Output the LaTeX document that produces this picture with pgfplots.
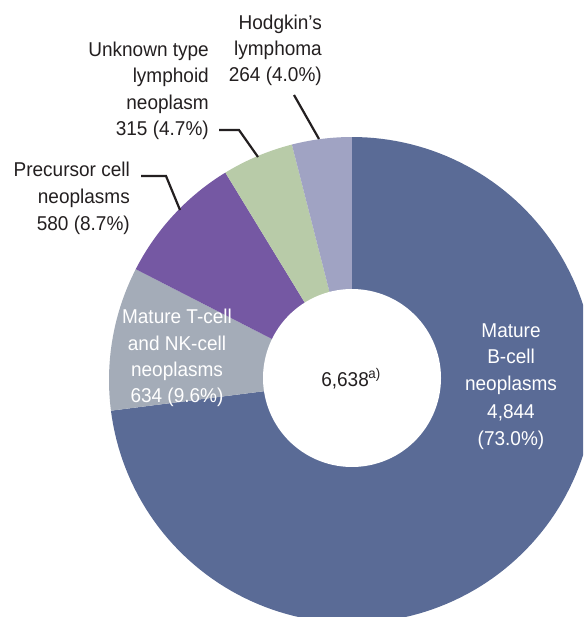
\documentclass[border=0pt]{standalone}
\usepackage{pgfplots}
\pgfplotsset{compat=1.18}
\usepackage{fontspec}
\setmainfont[FakeStretch=0.95]{Liberation Sans}

\definecolor{cB}{HTML}{5A6B96}
\definecolor{cT}{HTML}{A4ACB8}
\definecolor{cP}{HTML}{7558A3}
\definecolor{cU}{HTML}{B8CBA8}
\definecolor{cH}{HTML}{A0A3C3}
\definecolor{txt}{HTML}{231F20}
\newcommand\lf{\fontsize{20}{26}\selectfont}

\begin{document}
\begin{tikzpicture}
% case counts by lymphoma subtype
\def\vB{4844}% mature B-cell
\def\vT{634}%  mature T-cell and NK-cell
\def\vP{580}%  precursor cell
\def\vU{315}%  unknown type
\def\vH{264}%  Hodgkin's lymphoma
\pgfmathsetmacro\tot{\vB+\vT+\vP+\vU+\vH}
% slice boundaries, clockwise from 12 o'clock
\pgfmathsetmacro\aA{90}
\pgfmathsetmacro\aB{\aA-360*(\vB/\tot)}
\pgfmathsetmacro\aC{\aB-360*(\vT/\tot)}
\pgfmathsetmacro\aD{\aC-360*(\vP/\tot)}
\pgfmathsetmacro\aE{\aD-360*(\vU/\tot)}
\pgfmathsetmacro\aF{\aE-360*(\vH/\tot)}
\def\cx{352}\def\cy{380}\def\R{243}\def\r{89}
\begin{axis}[
  scale only axis, width=583pt, height=617pt,
  xmin=0, xmax=583, ymin=0, ymax=617, y dir=reverse,
  axis lines=none, clip=true,
]
\addplot[fill=cB, draw=none, domain=\aB:\aA, samples=150, variable=\t]
  ({\cx+\R*cos(\t)}, {\cy-\R*sin(\t)}) -- (axis cs:\cx,\cy) -- cycle;
\addplot[fill=cT, draw=none, domain=\aC:\aB, samples=40, variable=\t]
  ({\cx+\R*cos(\t)}, {\cy-\R*sin(\t)}) -- (axis cs:\cx,\cy) -- cycle;
\addplot[fill=cP, draw=none, domain=\aD:\aC, samples=40, variable=\t]
  ({\cx+\R*cos(\t)}, {\cy-\R*sin(\t)}) -- (axis cs:\cx,\cy) -- cycle;
\addplot[fill=cU, draw=none, domain=\aE:\aD, samples=30, variable=\t]
  ({\cx+\R*cos(\t)}, {\cy-\R*sin(\t)}) -- (axis cs:\cx,\cy) -- cycle;
\addplot[fill=cH, draw=none, domain=\aF:\aE, samples=30, variable=\t]
  ({\cx+\R*cos(\t)}, {\cy-\R*sin(\t)}) -- (axis cs:\cx,\cy) -- cycle;
% centre hole
\addplot[fill=white, draw=none, domain=0:360, samples=120, variable=\t]
  ({\cx+\r*cos(\t)}, {378-\r*sin(\t)}) -- cycle;

% total
\node[anchor=base, text=txt, inner sep=0pt, font=\lf] at (axis cs:351,386) {6,638\textsuperscript{\kern-0.5pt a)}};

% labels inside the ring
\begin{scope}[every node/.style={anchor=base, text=white, inner sep=0pt, font=\lf}]
\node at (axis cs:511,337) {Mature};
\node at (axis cs:511,363) {B-cell};
\node at (axis cs:511,390) {neoplasms};
\node at (axis cs:511,418) {4,844};
\node at (axis cs:511,445) {(73.0\%)};
\node at (axis cs:177,323) {Mature T-cell};
\node at (axis cs:177,350) {and NK-cell};
\node at (axis cs:177,376) {neoplasms};
\node at (axis cs:177,402) {634 (9.6\%)};
\end{scope}

% labels outside the ring
\begin{scope}[every node/.style={anchor=base east, text=txt, inner sep=0pt, font=\lf}]
\node at (axis cs:322,30) {Hodgkin’s};
\node at (axis cs:322,56) {lymphoma};
\node at (axis cs:322,82) {264 (4.0\%)};
\node at (axis cs:209,57) {Unknown type};
\node at (axis cs:209,83) {lymphoid};
\node at (axis cs:209,110) {neoplasm};
\node at (axis cs:209,136) {315 (4.7\%)};
\node at (axis cs:130,177) {Precursor cell};
\node at (axis cs:130,204) {neoplasms};
\node at (axis cs:130,230) {580 (8.7\%)};
\end{scope}

% leader lines
\draw[txt, line width=2.2pt] (axis cs:294,95) -- (axis cs:319,139);
\draw[txt, line width=2.2pt] (axis cs:219,130) -- (axis cs:239,130) -- (axis cs:258,157);
\draw[txt, line width=2.2pt] (axis cs:141,176) -- (axis cs:166,176) -- (axis cs:180,210);
\end{axis}
\pgfresetboundingbox
\useasboundingbox (current axis.south west) rectangle (current axis.north east);
\end{tikzpicture}
\end{document}
